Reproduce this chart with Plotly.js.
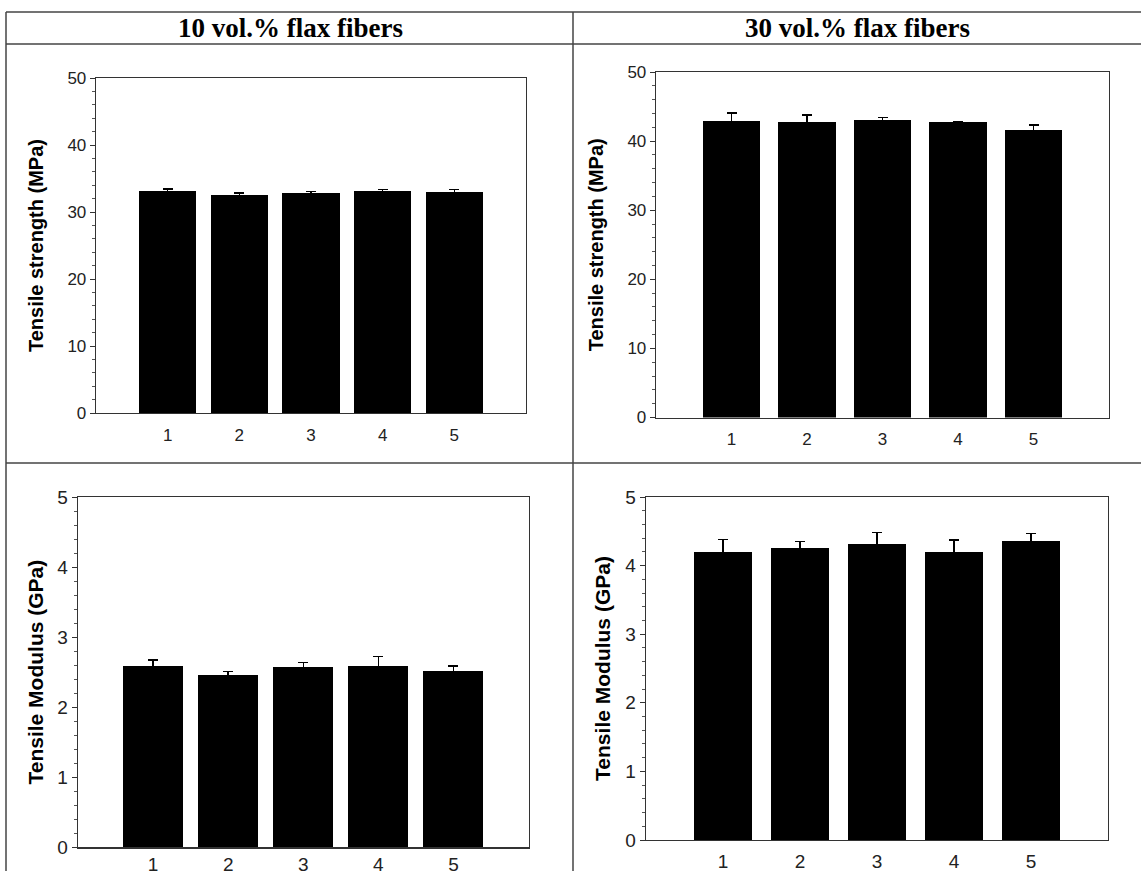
<!DOCTYPE html>
<html>
<head>
<meta charset="utf-8">
<script src="https://cdn.plot.ly/plotly-3.0.1.min.js"></script>
<style>html,body{margin:0;padding:0;background:#fff;}#chart{width:1141px;height:871px;}</style>
</head>
<body>
<div id="chart"></div>
<script>
// ---- data ----
const categories = [1, 2, 3, 4, 5];
const panelTitles = ["10 vol.% flax fibers", "30 vol.% flax fibers"];
const strength10 = [33.2, 32.6, 32.8, 33.1, 33.0];
const strength10Err = [0.25, 0.2, 0.25, 0.25, 0.35];
const strength30 = [42.9, 42.75, 43.0, 42.7, 41.6];
const strength30Err = [1.2, 1.0, 0.45, 0.1, 0.7];
const modulus10 = [2.59, 2.46, 2.57, 2.59, 2.52];
const modulus10Err = [0.08, 0.05, 0.07, 0.13, 0.07];
const modulus30 = [4.20, 4.26, 4.32, 4.20, 4.36];
const modulus30Err = [0.18, 0.09, 0.165, 0.17, 0.105];
const strengthTitle = "Tensile strength (MPa)";
const modulusTitle = "Tensile Modulus (GPa)";

// ---- layout helpers ----
const W = 1141, H = 871;
const px = v => v / W;
const py = v => 1 - v / H;

function bar(y, err, xa, ya, w) {
  return {
    type: 'bar', x: categories, y: y, xaxis: xa, yaxis: ya, width: w,
    marker: {color: '#000', line: {color: '#000', width: 0}},
    error_y: {type: 'data', array: err, visible: true, color: '#000', thickness: 1.5, width: 5},
    showlegend: false, hoverinfo: 'skip'
  };
}

const data = [
  bar(strength10, strength10Err, 'x', 'y', 0.8),
  bar(strength30, strength30Err, 'x2', 'y2', 0.76),
  bar(modulus10, modulus10Err, 'x3', 'y3', 0.8),
  bar(modulus30, modulus30Err, 'x4', 'y4', 0.76)
];

const fam = 'Liberation Sans, Arial, sans-serif';
const tickFontTop = {family: fam, size: 17, color: '#222'};
const tickFontBot = {family: fam, size: 19, color: '#222'};
const titleFontTop = {family: fam, size: 20, color: '#000', weight: 'bold'};
const titleFontBot = {family: fam, size: 21, color: '#000', weight: 'bold'};

function xax(x0, x1, anchor, tf, so) {
  return {
    domain: [px(x0), px(x1)], anchor: anchor, range: [0, 6],
    tickmode: 'array', tickvals: categories, ticktext: categories.map(String),
    ticks: '', showgrid: false, zeroline: false,
    showline: true, mirror: true, linecolor: '#333', linewidth: 1.3,
    tickfont: tf, ticklabelstandoff: so, fixedrange: true
  };
}
function yax(y0, y1, anchor, max, dtick, mdtick, title, tf, tfont, standoff) {
  return {
    domain: [py(y1), py(y0)], anchor: anchor, range: [0, max],
    dtick: dtick, tick0: 0, ticks: 'outside', ticklen: 5, tickwidth: 1, tickcolor: '#333',
    minor: {dtick: mdtick, ticks: 'outside', ticklen: 3, tickcolor: '#555', tickwidth: 1},
    showgrid: false, zeroline: false,
    showline: true, mirror: true, linecolor: '#333', linewidth: 1.3,
    tickfont: tf, fixedrange: true,
    title: {text: title, font: tfont, standoff: standoff}
  };
}

const lineStyle = {color: '#444', width: 1.5};
function hline(y, x0, x1) { return {type: 'line', xref: 'paper', yref: 'paper', x0: px(x0), x1: px(x1), y0: py(y), y1: py(y), line: lineStyle}; }
function vline(x, y0, y1) { return {type: 'line', xref: 'paper', yref: 'paper', x0: px(x), x1: px(x), y0: py(y0), y1: py(y1), line: lineStyle}; }

const layout = {
  width: W, height: H, autosize: false,
  margin: {l: 0, r: 0, t: 0, b: 0, pad: 0},
  paper_bgcolor: '#fff', plot_bgcolor: '#fff',
  bargap: 0,
  xaxis: xax(96, 526, 'y', tickFontTop, 6),
  yaxis: yax(78, 413, 'x', 50, 10, 2, strengthTitle, tickFontTop, titleFontTop, 18),
  xaxis2: xax(656, 1109, 'y2', tickFontTop, 6),
  yaxis2: yax(72, 417.5, 'x2', 50, 10, 2, strengthTitle, tickFontTop, titleFontTop, 18),
  xaxis3: xax(78, 528.5, 'y3', tickFontBot, 0),
  yaxis3: yax(497, 847.3, 'x3', 5, 1, 0.2, modulusTitle, tickFontBot, titleFontBot, 8),
  xaxis4: xax(646, 1108, 'y4', tickFontBot, 4),
  yaxis4: yax(497, 840, 'x4', 5, 1, 0.2, modulusTitle, tickFontBot, titleFontBot, 9),
  shapes: [
    hline(12, 6, W), hline(44, 6, W), hline(463, 6, W),
    vline(6, 12, H), vline(573, 12, H)
  ],
  annotations: panelTitles.map((t, i) => ({
    text: t, xref: 'paper', yref: 'paper',
    x: px(i === 0 ? 290 : 857), y: py(28), xanchor: 'center', yanchor: 'middle',
    showarrow: false,
    font: {family: 'Liberation Serif, Times New Roman, serif', size: 27, color: '#000', weight: 'bold'}
  }))
};

Plotly.newPlot('chart', data, layout, {displayModeBar: false, staticPlot: true});
</script>
</body>
</html>
